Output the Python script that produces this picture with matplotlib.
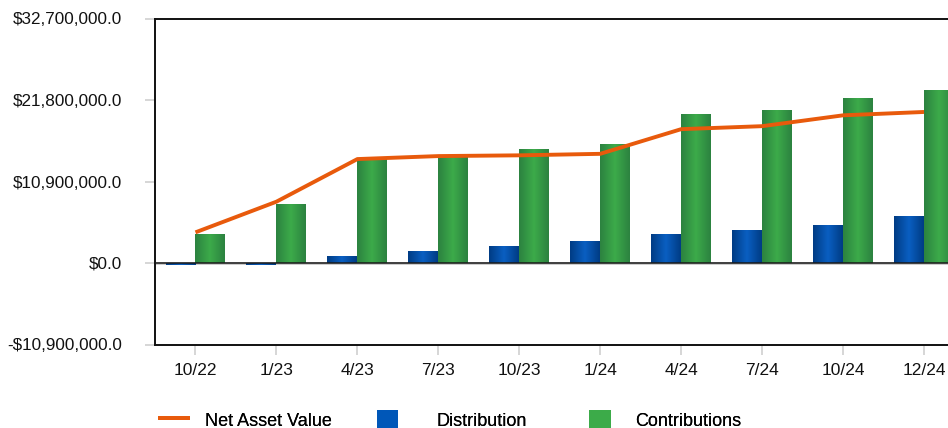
import matplotlib
matplotlib.use("Agg")
import matplotlib.pyplot as plt
import numpy as np
from matplotlib.colors import LinearSegmentedColormap
from matplotlib.lines import Line2D
from matplotlib.patches import Patch
from matplotlib.ticker import FuncFormatter
from matplotlib.transforms import ScaledTranslation

plt.rcParams['font.family'] = ['Liberation Sans', 'DejaVu Sans']

categories = ['10/22', '1/23', '4/23', '7/23', '10/23', '1/24', '4/24', '7/24', '10/24', '12/24']
distribution = [-0.3e6, -0.3e6, 0.94e6, 1.6e6, 2.3e6, 2.95e6, 3.89e6, 4.42e6, 5.1e6, 6.3e6]
contributions = [3.89e6, 7.9e6, 13.9e6, 14.3e6, 15.3e6, 15.95e6, 19.97e6, 20.4e6, 22.1e6, 23.2e6]
net_asset_value = [4.1e6, 8.2e6, 13.9e6, 14.3e6, 14.4e6, 14.6e6, 17.9e6, 18.3e6, 19.75e6, 20.2e6]
y_ticks = [-10.9e6, 0, 10.9e6, 21.8e6, 32.7e6]
series_names = ['Net Asset Value', 'Distribution', 'Contributions']

W, H = 948, 428
fig = plt.figure(figsize=(W / 100, H / 100), dpi=100)
ax = fig.add_axes([155 / W, 83.5 / H, (964.5 - 155) / W, (409.5 - 83.5) / H])

x = np.arange(len(categories))
bw = 0.37

blue_cmap = LinearSegmentedColormap.from_list('b', ['#003c84', '#0a5fc2', '#003c84'])
green_cmap = LinearSegmentedColormap.from_list('g', ['#2c8240', '#3cab4a', '#2c8240'])
grad = np.linspace(0, 1, 64).reshape(1, -1)

ax.axhline(0, color='#c8c8c8', lw=2.0, zorder=1.5)
bars_d = ax.bar(x - bw / 2, distribution, width=bw, color='#0057b8', zorder=2)
bars_c = ax.bar(x + bw / 2, contributions, width=bw, color='#3cab49', zorder=2)
for bars, cmap in ((bars_d, blue_cmap), (bars_c, green_cmap)):
    for b in bars:
        x0, y0 = b.get_x(), b.get_y()
        w, h = b.get_width(), b.get_height()
        im = ax.imshow(grad, cmap=cmap, aspect='auto', extent=(x0, x0 + w, y0, y0 + h),
                       zorder=2.1, interpolation='bicubic')
        im.set_clip_path(b)

ax.axhline(0, color='#1a1a1a', lw=1.1, zorder=3)
ax.plot(x, net_asset_value, color='#e85a0c', lw=2.8, zorder=4, solid_capstyle='butt')

ax.set_xlim(-0.5, len(categories) - 0.5)
ax.set_ylim(y_ticks[0], y_ticks[-1])
ax.set_yticks(y_ticks)
ax.yaxis.set_major_formatter(FuncFormatter(lambda v, p: ('-$' if v < 0 else '$') + f'{abs(v):,.1f}'))
ax.set_xticks(x)
ax.set_xticklabels(categories)
shift = ScaledTranslation(-3 / 100, 0, fig.dpi_scale_trans)
for lbl in ax.get_xticklabels():
    lbl.set_transform(lbl.get_transform() + shift)

for s in ('left', 'top', 'bottom'):
    ax.spines[s].set_color('#111111')
    ax.spines[s].set_linewidth(1.4)
ax.spines['right'].set_visible(False)

ax.tick_params(axis='y', length=7, color='#d0d0d0', width=1.2, pad=17, labelsize=12.3, labelcolor='#111111')
ax.tick_params(axis='x', length=7, color='#d0d0d0', width=1.2, pad=6, labelsize=12.5, labelcolor='#111111')

fs = 13
fs_px = fs * 100 / 72
handles = [Line2D([0], [0], color='#e85a0c', lw=2.8),
           Patch(facecolor='#0057b8'),
           Patch(facecolor='#3cab49')]
# (handle left x px, handle width px, gap to text px)
legend_layout = [(160, 28, 17), (377, 21, 39), (589, 22, 24)]
for h, name, (lx, hw, gap) in zip(handles, series_names, legend_layout):
    leg = fig.legend([h], [name], loc='center left', bbox_to_anchor=(lx / W, 8 / H),
                     frameon=False, fontsize=fs, handlelength=hw / fs_px, handleheight=1.15,
                     handletextpad=gap / fs_px, borderpad=0, borderaxespad=0)
    fig.add_artist(leg)

fig.savefig('out.png', dpi=100)
